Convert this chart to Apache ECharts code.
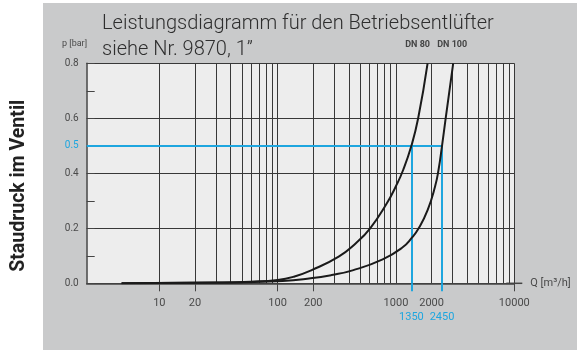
<!DOCTYPE html>
<html>
<head>
<meta charset="utf-8">
<script src="https://cdn.jsdelivr.net/npm/echarts@6/dist/echarts.min.js"></script>
<style>
  html, body { margin: 0; padding: 0; background: #ffffff; }
  #chart { width: 579px; height: 352px; }
</style>
</head>
<body>
<div id="chart"></div>
<script>
// Texts
const titleLine1 = 'Leistungsdiagramm für den Betriebsentlüfter';
const titleLine2 = 'siehe Nr. 9870, 1”';
const yAxisTitle = 'Staudruck im Ventil';
const xAxisTitle = 'Q [m³/h]';
const pUnitText = 'p [bar]';
const curveNames = ['DN 80', 'DN 100'];

// Axis ranges
const qMin = 2.434;
const qMax = 10000;
const pMin = 0;
const pMax = 0.8;
const pStep = 0.1;
const pLabelValues = [0, 0.2, 0.4, 0.5, 0.6, 0.8];

// Log grid lines and tick labels of the flow axis
const qGridValues = [10, 20, 30, 40, 50, 60, 70, 80, 90, 100, 200, 300, 400, 500, 600, 700, 800, 900,
  1000, 2000, 3000, 4000, 5000, 6000, 7000, 8000, 9000, 10000];
const qTickValues = [10, 20, 100, 200, 10000];
const qLabelValues = [10, 20, 100, 200, 1000, 2000, 10000];

// Pressure curves: flow Q [m³/h] and back pressure p [bar]
const dn80Q = [4.8, 30, 59, 100, 137, 194, 328, 456, 605, 835, 994, 1150, 1350, 1540, 1850];
const dn80P = [0, 0.003, 0.006, 0.012, 0.024, 0.048, 0.097, 0.145, 0.2, 0.29, 0.351, 0.412, 0.5, 0.6, 0.8];
const dn100Q = [4.8, 40, 110, 190, 286, 430, 772, 1139, 1358, 1556, 1854, 2137, 2288, 2450, 2630, 3045];
const dn100P = [0, 0.003, 0.008, 0.018, 0.03, 0.047, 0.087, 0.131, 0.165, 0.2, 0.267, 0.351, 0.412, 0.5, 0.6, 0.8];

// Operating point at 0.5 bar
const dutyP = 0.5;
const dutyQ = [1350, 2450];

const BLUE = '#1ea6df';
const GRID_LINE = '#383838';
const TEXT = '#4a4a4a';
const FONT = 'Roboto';

const zip = (xs, ys) => xs.map((x, i) => [x, ys[i]]);

const chart = echarts.init(document.getElementById('chart'), null, { renderer: 'canvas' });

const baseX = {
  type: 'log',
  logBase: 10,
  min: qMin,
  max: qMax,
  gridIndex: 0,
  position: 'bottom'
};

const curveStyle = {
  type: 'line',
  smooth: 0.5,
  showSymbol: false,
  symbol: 'none',
  z: 5,
  lineStyle: { color: '#1a1a1a', width: 2 }
};

chart.setOption({
  backgroundColor: 'transparent',
  animation: false,
  textStyle: { fontFamily: FONT },
  graphic: [
    {
      type: 'rect', z: -100, silent: true,
      shape: { x: 43, y: 3, width: 534, height: 347 },
      style: { fill: '#c9cacb' }
    },
    {
      type: 'text', left: 62, top: 39, silent: true,
      style: { text: pUnitText, fontSize: 9, fill: TEXT, fontFamily: FONT }
    }
  ],
  title: {
    text: titleLine1 + '\n' + titleLine2,
    left: 102,
    top: 11,
    padding: 0,
    textStyle: { fontSize: 20, fontWeight: 300, color: '#2e2e2e', lineHeight: 26, fontFamily: FONT }
  },
  grid: {
    left: 86.7, right: 64.7, top: 63.3, bottom: 68.7,
    show: true, backgroundColor: '#ededed', borderWidth: 0
  },
  xAxis: [
    Object.assign({}, baseX, {
      axisLine: { show: true, lineStyle: { color: '#444', width: 1.5 },
        symbol: ['none', 'rect'], symbolSize: [1.5, 16] },
      axisTick: { show: false, customValues: qGridValues },
      axisLabel: { show: false },
      splitLine: { show: true, lineStyle: { color: GRID_LINE, width: 1 } },
      name: xAxisTitle,
      nameLocation: 'end',
      nameGap: 16,
      nameTextStyle: { color: TEXT, fontSize: 11, fontFamily: FONT }
    }),
    Object.assign({}, baseX, {
      axisLine: { show: false },
      axisTick: { show: true, length: 8, customValues: qTickValues, lineStyle: { color: '#444', width: 1 } },
      axisLabel: { show: true, customValues: qLabelValues, margin: 14, color: TEXT, fontSize: 11,
        fontFamily: FONT, formatter: v => String(Math.round(v)) },
      splitLine: { show: false }
    }),
    Object.assign({}, baseX, {
      axisLine: { show: false },
      axisTick: { show: true, length: 8, customValues: dutyQ, lineStyle: { color: BLUE, width: 2 } },
      axisLabel: { show: true, customValues: dutyQ, margin: 28, color: BLUE, fontSize: 11,
        fontFamily: FONT, formatter: v => String(Math.round(v)) },
      splitLine: { show: false }
    })
  ],
  yAxis: {
    type: 'value',
    min: pMin,
    max: pMax,
    interval: pStep,
    axisLine: { show: true, lineStyle: { color: '#444', width: 1.5 } },
    axisTick: { show: true, inside: true, length: 8, lineStyle: { color: '#444' } },
    splitLine: { show: true, lineStyle: { color: [GRID_LINE, 'rgba(0,0,0,0)'], width: 1 } },
    axisLabel: {
      margin: 8, color: TEXT, fontSize: 10, fontFamily: FONT,
      formatter: v => {
        const r = Math.round(v * 10) / 10;
        if (!pLabelValues.some(x => Math.abs(x - r) < 1e-9)) return '';
        return Math.abs(r - dutyP) < 1e-9 ? '{hi|' + r.toFixed(1) + '}' : r.toFixed(1);
      },
      rich: { hi: { color: BLUE, fontSize: 10, fontFamily: FONT } }
    },
    name: yAxisTitle,
    nameLocation: 'middle',
    nameRotate: 90,
    nameGap: 58,
    nameTextStyle: { fontSize: 19.5, fontWeight: 'bold', color: '#222', fontFamily: FONT, padding: [0, 25, 0, 0] }
  },
  series: [
    {
      name: 'duty',
      type: 'line',
      data: [],
      z: 3,
      markLine: {
        silent: true,
        symbol: ['none', 'none'],
        label: { show: false },
        lineStyle: { color: BLUE, width: 2, type: 'solid' },
        data: [
          [{ coord: [qMin, dutyP] }, { coord: [dutyQ[1], dutyP] }],
          [{ coord: [dutyQ[0], pMin] }, { coord: [dutyQ[0], dutyP] }],
          [{ coord: [dutyQ[1], pMin] }, { coord: [dutyQ[1], dutyP] }]
        ]
      }
    },
    Object.assign({}, curveStyle, { name: curveNames[0], data: zip(dn80Q, dn80P) }),
    Object.assign({}, curveStyle, { name: curveNames[1], data: zip(dn100Q, dn100P) }),
    {
      name: 'curve labels',
      type: 'scatter',
      clip: false,
      symbolSize: 0,
      z: 6,
      data: [
        { value: [dn80Q[dn80Q.length - 1], pMax], name: curveNames[0], label: { offset: [-10, 0] } },
        { value: [dn100Q[dn100Q.length - 1], pMax], name: curveNames[1], label: { offset: [-1, 0] } }
      ],
      label: {
        show: true, position: 'top', distance: 14,
        formatter: p => p.name,
        fontSize: 9, fontWeight: 'bold', color: '#222', fontFamily: FONT
      }
    }
  ]
});
</script>
</body>
</html>
